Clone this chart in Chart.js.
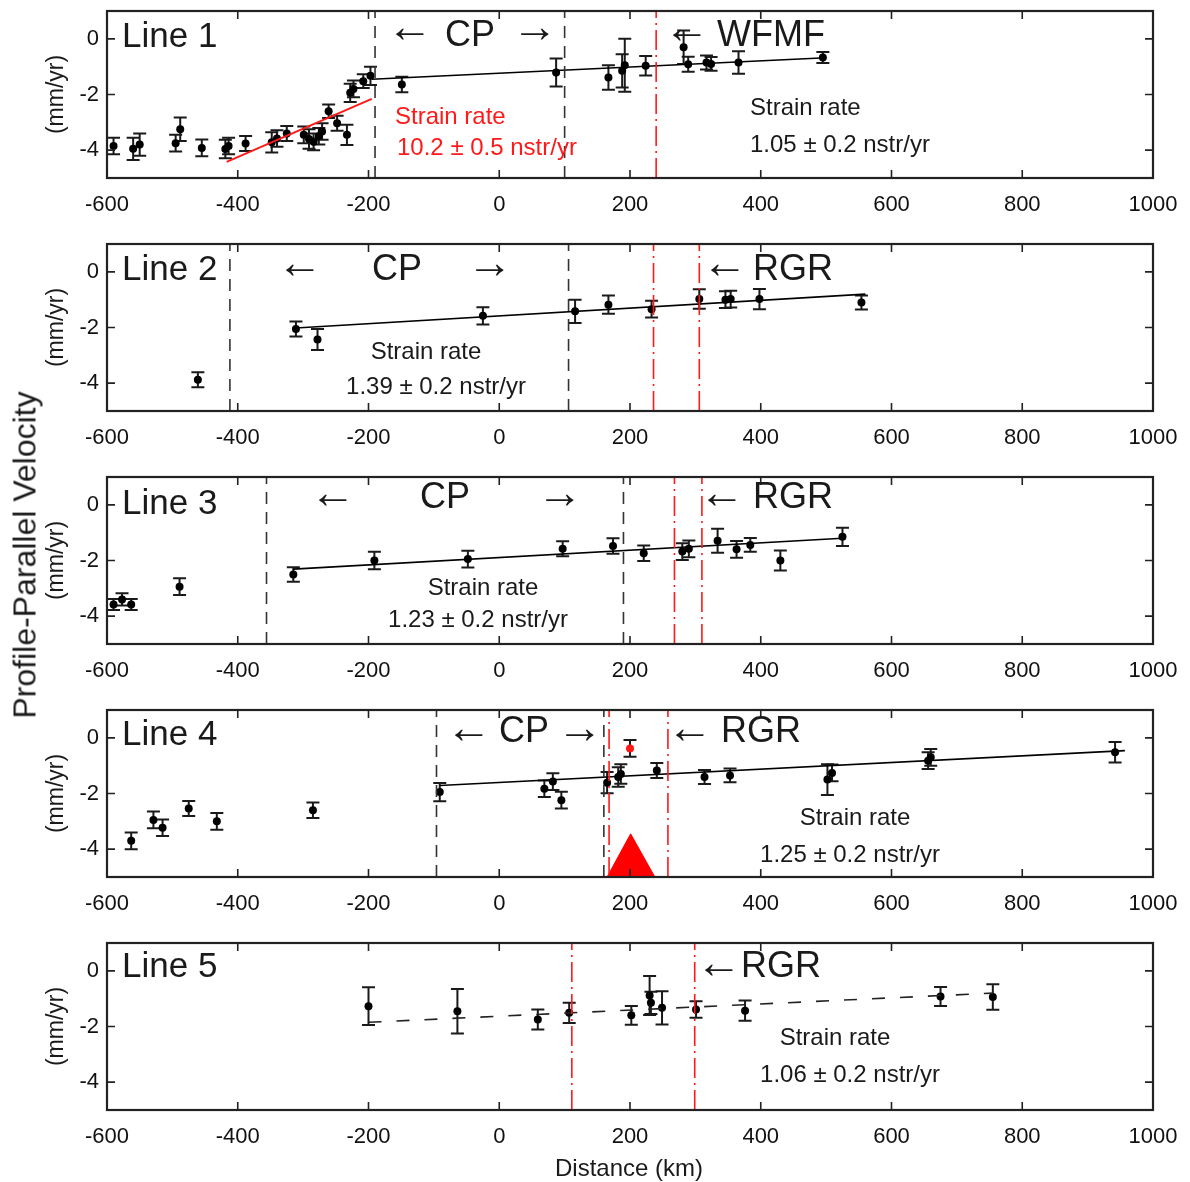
<!DOCTYPE html>
<html>
<head>
<meta charset="utf-8">
<script src="https://cdn.jsdelivr.net/npm/chart.js@4.4.0/dist/chart.umd.min.js"></script>
<style>
  body { margin: 0; background: #fff; font-family: "Liberation Sans", Arial, sans-serif; }
  #wrap { position: relative; width: 1190px; height: 1182px; }
  .panel { position: absolute; left: 0; }
  #ylab { position: absolute; left: 25px; top: 555px; transform: translate(-50%, -50%) rotate(-90deg);
          font-size: 32px; white-space: nowrap; color: #1a1a1a; }
  #xlab { position: absolute; left: 629px; top: 1168px; transform: translate(-50%, -50%);
          font-size: 24px; white-space: nowrap; color: #1a1a1a; }
</style>
</head>
<body>
<div id="wrap">
  <canvas class="panel" id="p1" width="1190" height="233" style="top:0px"></canvas>
  <canvas class="panel" id="p2" width="1190" height="233" style="top:233px"></canvas>
  <canvas class="panel" id="p3" width="1190" height="233" style="top:466px"></canvas>
  <canvas class="panel" id="p4" width="1190" height="233" style="top:699px"></canvas>
  <canvas class="panel" id="p5" width="1190" height="233" style="top:932px"></canvas>
  <div id="ylab">Profile-Parallel Velocity</div>
  <div id="xlab">Distance (km)</div>
</div>
<script>
// axis ticks
var xTicks = [-600, -400, -200, 0, 200, 400, 600, 800, 1000];
var yTicks = [-4, -2, 0];

// Line 1
var line1Dist = [-590, -560, -550, -495, -488, -455, -419, -414, -388, -348, -340, -325, -299, -291, -284, -276, -271, -261, -248, -233, -228, -223, -208, -197, -149, 87, 167, 188, 192, 224, 282, 289, 317, 324, 366, 495];
var line1Vel  = [-3.85, -3.95, -3.8, -3.75, -3.25, -3.92, -3.96, -3.85, -3.76, -3.72, -3.58, -3.4, -3.45, -3.6, -3.7, -3.5, -3.33, -2.6, -3.03, -3.45, -1.94, -1.8, -1.52, -1.33, -1.64, -1.21, -1.39, -1.15, -0.95, -0.97, -0.3, -0.91, -0.85, -0.9, -0.85, -0.67];
var line1Err  = [0.3, 0.4, 0.4, 0.3, 0.42, 0.3, 0.33, 0.3, 0.27, 0.36, 0.3, 0.27, 0.3, 0.35, 0.3, 0.3, 0.3, 0.24, 0.27, 0.36, 0.33, 0.3, 0.25, 0.33, 0.28, 0.5, 0.44, 0.6, 0.95, 0.35, 0.6, 0.27, 0.25, 0.25, 0.4, 0.2];
var line1FitX = [-195, 500];
var line1FitY = [-1.45, -0.68];
var line1SteepX = [-417, -195];
var line1SteepY = [-4.42, -2.16];
var line1CP = [-190, 100];
var line1Red = [240];

// Line 2
var line2Dist = [-461, -311, -278, -25, 116, 167, 233, 306, 346, 354, 398, 554];
var line2Vel  = [-3.88, -2.05, -2.43, -1.58, -1.42, -1.18, -1.34, -0.98, -1.0, -0.98, -0.98, -1.1];
var line2Err  = [0.27, 0.27, 0.38, 0.31, 0.42, 0.33, 0.3, 0.35, 0.3, 0.3, 0.36, 0.25];
var line2FitX = [-311, 560];
var line2FitY = [-2.02, -0.8];
var line2CP = [-412, 106];
var line2Red = [236, 306];

// Line 3
var line3Dist = [-590, -577, -563, -489, -315, -191, -48, 97, 174, 221, 280, 290, 334, 363, 384, 430, 525];
var line3Vel  = [-3.58, -3.4, -3.58, -2.94, -2.5, -2.0, -1.95, -1.58, -1.48, -1.74, -1.68, -1.58, -1.29, -1.6, -1.44, -2.0, -1.15];
var line3Err  = [0.2, 0.22, 0.2, 0.3, 0.26, 0.31, 0.3, 0.27, 0.28, 0.28, 0.3, 0.3, 0.43, 0.3, 0.25, 0.36, 0.33];
var line3FitX = [-315, 525];
var line3FitY = [-2.31, -1.2];
var line3CP = [-356, 190];
var line3Red = [268, 310];

// Line 4
var line4Dist = [-563, -529, -515, -475, -432, -285, -91, 69, 82, 95, 165, 182, 186, 241, 314, 353, 502, 509, 656, 660, 942];
var line4Vel  = [-3.7, -2.95, -3.23, -2.54, -3.0, -2.6, -1.95, -1.83, -1.57, -2.24, -1.61, -1.41, -1.3, -1.17, -1.41, -1.35, -1.5, -1.26, -0.82, -0.7, -0.52];
var line4Err  = [0.3, 0.3, 0.3, 0.27, 0.3, 0.28, 0.33, 0.3, 0.3, 0.3, 0.38, 0.35, 0.35, 0.27, 0.25, 0.25, 0.55, 0.3, 0.3, 0.3, 0.37];
var line4OddDist = [200];
var line4OddVel = [-0.38];
var line4OddErr = [0.3];
var line4FitX = [-91, 957];
var line4FitY = [-1.71, -0.46];
var line4CP = [-96, 160];
var line4Red = [168, 258];
var line4VolcanoX = [165, 201, 238];
var line4VolcanoY = [-5, -3.45, -5];

// Line 5
var line5Dist = [-200, -64, 59, 107, 202, 230, 232, 249, 301, 376, 675, 755];
var line5Vel  = [-1.27, -1.45, -1.75, -1.51, -1.6, -0.89, -1.15, -1.33, -1.39, -1.43, -0.92, -0.94];
var line5Err  = [0.68, 0.8, 0.36, 0.36, 0.34, 0.7, 0.4, 0.6, 0.3, 0.36, 0.34, 0.46];
var line5FitX = [-200, 755];
var line5FitY = [-1.85, -0.8];
var line5CP = [];
var line5Red = [111, 299];

var FONT = "Liberation Sans";

function pts(xs, ys) {
  return xs.map(function (x, i) { return { x: x, y: ys[i] }; });
}

function vline(x, red) {
  return {
    data: [{ x: x, y: -5 }, { x: x, y: 1 }],
    showLine: true, pointRadius: 0,
    borderColor: red ? '#ff1a1a' : '#333',
    borderWidth: 1.6,
    borderDash: red ? [20, 5, 2, 5] : [12, 8]
  };
}

// box, inward ticks, error bars and text labels
var panelExtras = {
  id: 'panelExtras',
  beforeDatasetsDraw: function (chart) {
    var ctx = chart.ctx, xs = chart.scales.x, ys = chart.scales.y;
    ctx.save();
    ctx.beginPath();
    ctx.rect(chart.chartArea.left, chart.chartArea.top, chart.chartArea.width, chart.chartArea.height);
    ctx.clip();
    ctx.strokeStyle = '#1a1a1a';
    ctx.lineWidth = 2;
    chart.data.datasets.forEach(function (ds) {
      if (!ds.errors) return;
      ds.data.forEach(function (p, i) {
        var px = xs.getPixelForValue(p.x);
        var y1 = ys.getPixelForValue(p.y + ds.errors[i]);
        var y2 = ys.getPixelForValue(p.y - ds.errors[i]);
        ctx.beginPath();
        ctx.moveTo(px, y1); ctx.lineTo(px, y2);
        ctx.moveTo(px - 6.5, y1); ctx.lineTo(px + 6.5, y1);
        ctx.moveTo(px - 6.5, y2); ctx.lineTo(px + 6.5, y2);
        ctx.stroke();
      });
    });
    ctx.restore();
  },
  afterDraw: function (chart, args, opts) {
    var ctx = chart.ctx, a = chart.chartArea, xs = chart.scales.x, ys = chart.scales.y;
    ctx.save();
    ctx.strokeStyle = '#222';
    ctx.lineWidth = 2.2;
    ctx.strokeRect(a.left, a.top, a.width, a.height);
    ctx.lineWidth = 1.6;
    ctx.beginPath();
    xTicks.forEach(function (v) {
      var px = xs.getPixelForValue(v);
      ctx.moveTo(px, a.bottom); ctx.lineTo(px, a.bottom - 8);
      ctx.moveTo(px, a.top); ctx.lineTo(px, a.top + 8);
    });
    yTicks.forEach(function (v) {
      var py = ys.getPixelForValue(v);
      ctx.moveTo(a.left, py); ctx.lineTo(a.left + 8, py);
      ctx.moveTo(a.right, py); ctx.lineTo(a.right - 8, py);
    });
    ctx.stroke();
    (opts.labels || []).forEach(function (t) {
      ctx.font = (t.size || 24) + 'px "' + FONT + '"';
      ctx.fillStyle = t.color || '#1a1a1a';
      ctx.textAlign = t.align || 'center';
      ctx.textBaseline = 'middle';
      ctx.fillText(t.text, t.x, t.y);
    });
    ctx.restore();
  }
};

function makePanel(id, datasets, labels) {
  return new Chart(document.getElementById(id), {
    type: 'scatter',
    data: { datasets: datasets },
    options: {
      responsive: false,
      animation: false,
      layout: { padding: { top: 11, right: 37, left: 0, bottom: 0 } },
      plugins: {
        legend: { display: false },
        tooltip: { enabled: false },
        panelExtras: { labels: labels }
      },
      scales: {
        x: {
          type: 'linear', min: -600, max: 1000,
          afterBuildTicks: function (s) { s.ticks = xTicks.map(function (v) { return { value: v }; }); },
          afterFit: function (s) { s.height = 55; s.paddingLeft = 0; s.paddingRight = 0; },
          grid: { display: false },
          border: { display: false },
          ticks: { color: '#111', padding: 6, maxRotation: 0, font: { family: FONT, size: 22 },
                   callback: function (v) { return String(v); } }
        },
        y: {
          min: -5, max: 1,
          afterBuildTicks: function (s) { s.ticks = yTicks.map(function (v) { return { value: v }; }); },
          afterFit: function (s) { s.width = 107; s.paddingTop = 0; s.paddingBottom = 0; },
          grid: { display: false },
          border: { display: false },
          ticks: { color: '#111', padding: 0, font: { family: FONT, size: 22 },
                   callback: function (v) { return String(v); } },
          title: { display: true, text: '(mm/yr)', color: '#1a1a1a', padding: { top: 43, bottom: 0 },
                   font: { family: FONT, size: 23 } }
        }
      }
    },
    plugins: [panelExtras]
  });
}

function pointSet(xs, ys, errs, color) {
  return {
    data: pts(xs, ys), errors: errs,
    pointRadius: 4, pointBackgroundColor: color || '#000', pointBorderWidth: 0
  };
}

function fitSet(xs, ys, color, width, dash) {
  return {
    data: pts(xs, ys), showLine: true, pointRadius: 0,
    borderColor: color, borderWidth: width, borderDash: dash || []
  };
}

function bounds(cp, red) {
  return cp.map(function (x) { return vline(x, false); })
    .concat(red.map(function (x) { return vline(x, true); }));
}

makePanel('p1',
  bounds(line1CP, line1Red).concat([
    fitSet(line1FitX, line1FitY, '#000', 1.6),
    fitSet(line1SteepX, line1SteepY, '#ff1a1a', 2),
    pointSet(line1Dist, line1Vel, line1Err)
  ]),
  [
    { text: 'Line 1', x: 122, y: 37, size: 35, align: 'left' },
    { text: '\u2190', x: 410, y: 29, size: 46 },
    { text: 'CP', x: 470, y: 36, size: 36 },
    { text: '\u2192', x: 535, y: 29, size: 46 },
    { text: '\u2190', x: 687, y: 30, size: 46 },
    { text: 'WFMF', x: 771, y: 36, size: 36 },
    { text: 'Strain rate', x: 395, y: 117, color: '#ff1a1a', align: 'left' },
    { text: '10.2 \u00b1 0.5 nstr/yr', x: 397, y: 148, color: '#ff1a1a', align: 'left' },
    { text: 'Strain rate', x: 750, y: 108, align: 'left' },
    { text: '1.05 \u00b1 0.2 nstr/yr', x: 750, y: 145, align: 'left' }
  ]);

makePanel('p2',
  bounds(line2CP, line2Red).concat([
    fitSet(line2FitX, line2FitY, '#000', 1.6),
    pointSet(line2Dist, line2Vel, line2Err)
  ]),
  [
    { text: 'Line 2', x: 122, y: 37, size: 35, align: 'left' },
    { text: '\u2190', x: 300, y: 32, size: 46 },
    { text: 'CP', x: 397, y: 37, size: 36 },
    { text: '\u2192', x: 490, y: 32, size: 46 },
    { text: '\u2190', x: 725, y: 32, size: 46 },
    { text: 'RGR', x: 793, y: 37, size: 36 },
    { text: 'Strain rate', x: 426, y: 119 },
    { text: '1.39 \u00b1 0.2 nstr/yr', x: 436, y: 154 }
  ]);

makePanel('p3',
  bounds(line3CP, line3Red).concat([
    fitSet(line3FitX, line3FitY, '#000', 1.6),
    pointSet(line3Dist, line3Vel, line3Err)
  ]),
  [
    { text: 'Line 3', x: 122, y: 38, size: 35, align: 'left' },
    { text: '\u2190', x: 333, y: 29, size: 46 },
    { text: 'CP', x: 445, y: 32, size: 36 },
    { text: '\u2192', x: 560, y: 29, size: 46 },
    { text: '\u2190', x: 722, y: 29, size: 46 },
    { text: 'RGR', x: 793, y: 32, size: 36 },
    { text: 'Strain rate', x: 483, y: 122 },
    { text: '1.23 \u00b1 0.2 nstr/yr', x: 478, y: 154 }
  ]);

makePanel('p4',
  bounds(line4CP, line4Red).concat([
    {
      data: pts(line4VolcanoX, line4VolcanoY), showLine: true, pointRadius: 0,
      borderColor: '#ff0000', borderWidth: 1, backgroundColor: '#ff0000', fill: { value: -5 }
    },
    fitSet(line4FitX, line4FitY, '#000', 1.6),
    pointSet(line4Dist, line4Vel, line4Err),
    pointSet(line4OddDist, line4OddVel, line4OddErr, '#ff1a1a')
  ]),
  [
    { text: 'Line 4', x: 122, y: 36, size: 35, align: 'left' },
    { text: '\u2190', x: 469, y: 31, size: 46 },
    { text: 'CP', x: 524, y: 33, size: 36 },
    { text: '\u2192', x: 580, y: 31, size: 46 },
    { text: '\u2190', x: 690, y: 31, size: 46 },
    { text: 'RGR', x: 761, y: 33, size: 36 },
    { text: 'Strain rate', x: 855, y: 119 },
    { text: '1.25 \u00b1 0.2 nstr/yr', x: 850, y: 156 }
  ]);

makePanel('p5',
  bounds(line5CP, line5Red).concat([
    fitSet(line5FitX, line5FitY, '#222', 1.6, [13, 15]),
    pointSet(line5Dist, line5Vel, line5Err)
  ]),
  [
    { text: 'Line 5', x: 122, y: 35, size: 35, align: 'left' },
    { text: '\u2190', x: 719, y: 33, size: 46 },
    { text: 'RGR', x: 781, y: 35, size: 36 },
    { text: 'Strain rate', x: 835, y: 106 },
    { text: '1.06 \u00b1 0.2 nstr/yr', x: 850, y: 143 }
  ]);
</script>
</body>
</html>
